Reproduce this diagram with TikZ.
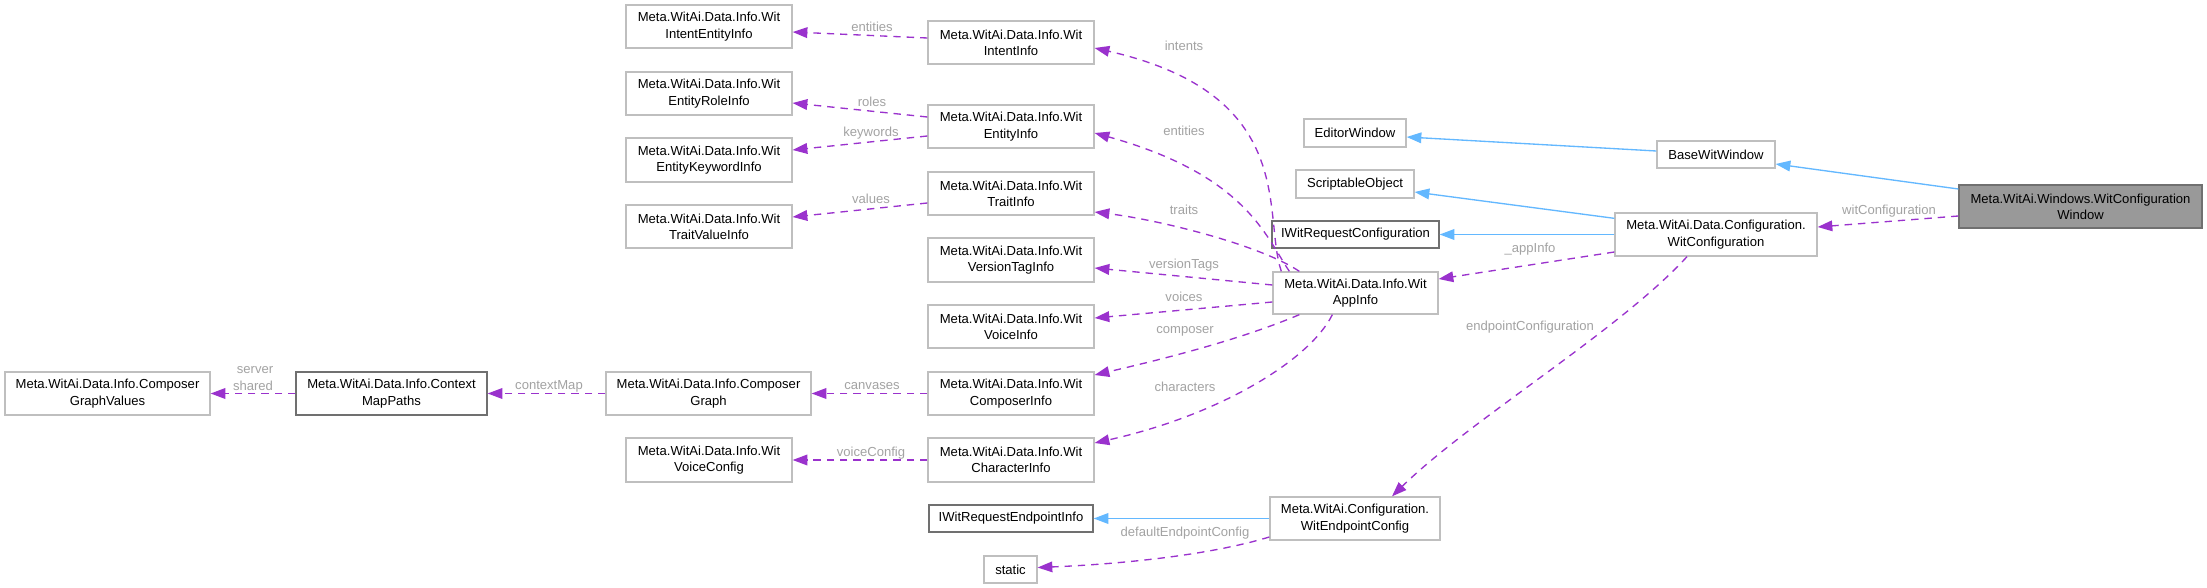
\documentclass[tikz,border=0pt]{standalone}
\usepackage{fontspec}
\setmainfont{Liberation Sans}
\usetikzlibrary{arrows.meta,calc}
\definecolor{edgeblue}{HTML}{63B8FF}
\definecolor{edgepurple}{HTML}{9A32CD}
\definecolor{boxborder}{HTML}{BFBFBF}
\definecolor{darkborder}{HTML}{707070}
\definecolor{focalfill}{HTML}{999999}
\definecolor{lblgray}{HTML}{A3A3A3}
\begin{document}
\begin{tikzpicture}[x=0.75pt,y=-0.75pt,
  font=\fontsize{9.8pt}{12.2pt}\selectfont,
  sz/.style 2 args={minimum width=#1*0.75pt, minimum height=#2*0.75pt},
  cls/.style={draw=boxborder, line width=1pt, fill=white, align=center, inner sep=0pt, text=black},
  undoc/.style={cls, draw=darkborder},
  focal/.style={cls, draw=darkborder, fill=focalfill},
  usage/.style={draw=edgepurple, line width=1pt, dash pattern=on 5.5pt off 4.5pt, -{Triangle[length=11pt,width=8pt]}},
  inherit/.style={draw=edgeblue, line width=1pt, -{Triangle[length=11pt,width=8pt]}},
  lbl/.style={text=lblgray, inner sep=0pt}
]
\useasboundingbox[fill=white] (0,0) rectangle (2207,588);

% nodes
\node[cls, sz={166}{43}] (iei) at (709,26.5) {Meta.WitAi.Data.Info.Wit\\IntentEntityInfo};
\node[cls, sz={166}{43}] (eri) at (709,93.5) {Meta.WitAi.Data.Info.Wit\\EntityRoleInfo};
\node[cls, sz={166}{44}] (eki) at (709,160) {Meta.WitAi.Data.Info.Wit\\EntityKeywordInfo};
\node[cls, sz={166}{43}] (tvi) at (709,226.5) {Meta.WitAi.Data.Info.Wit\\TraitValueInfo};
\node[cls, sz={166}{44}] (vc) at (709,460) {Meta.WitAi.Data.Info.Wit\\VoiceConfig};
\node[cls, sz={166}{43}] (ii) at (1011,42.5) {Meta.WitAi.Data.Info.Wit\\IntentInfo};
\node[cls, sz={166}{43}] (ei) at (1011,126.5) {Meta.WitAi.Data.Info.Wit\\EntityInfo};
\node[cls, sz={166}{43}] (ti) at (1011,193.5) {Meta.WitAi.Data.Info.Wit\\TraitInfo};
\node[cls, sz={166}{44}] (vti) at (1011,260) {Meta.WitAi.Data.Info.Wit\\VersionTagInfo};
\node[cls, sz={166}{43}] (vi) at (1011,326.5) {Meta.WitAi.Data.Info.Wit\\VoiceInfo};
\node[cls, sz={166}{43}] (ci) at (1011,393.5) {Meta.WitAi.Data.Info.Wit\\ComposerInfo};
\node[cls, sz={166}{44}] (chi) at (1011,460) {Meta.WitAi.Data.Info.Wit\\CharacterInfo};
\node[undoc, sz={164}{27}] (iwrei) at (1011,518.5) {IWitRequestEndpointInfo};
\node[cls, sz={53}{27}] (st) at (1010.5,569.5) {static};
\node[cls, sz={205}{43}] (cg) at (708.5,393.5) {Meta.WitAi.Data.Info.Composer\\Graph};
\node[undoc, sz={191}{43}] (cmp) at (391.5,393.5) {Meta.WitAi.Data.Info.Context\\MapPaths};
\node[cls, sz={205}{43}] (cgv) at (107.5,393.5) {Meta.WitAi.Data.Info.Composer\\GraphValues};
\node[cls, sz={102}{28}] (ew) at (1355,133) {EditorWindow};
\node[cls, sz={118}{28}] (so) at (1355,184) {ScriptableObject};
\node[undoc, sz={167}{27}] (iwrc) at (1355.5,234.5) {IWitRequestConfiguration};
\node[cls, sz={165}{42}] (ai) at (1355.5,293) {Meta.WitAi.Data.Info.Wit\\AppInfo};
\node[cls, sz={170}{43}] (wec) at (1355,518.5) {Meta.WitAi.Configuration.\\WitEndpointConfig};
\node[cls, sz={118}{27}] (bww) at (1716,154.5) {BaseWitWindow};
\node[cls, sz={202}{43}] (wc) at (1716,234.5) {Meta.WitAi.Data.Configuration.\\WitConfiguration};
\node[focal, sz={243}{43}] (wcw) at (2080.5,206.5) {Meta.WitAi.Windows.WitConfiguration\\Window};

% edges
\draw[usage] ($(ii.west)+(0,-4.5)$) -- ($(iei.east)+(0,5.5)$);
\draw[usage] ($(ei.west)+(0,-9.5)$) -- ($(eri.east)+(0,9.5)$);
\draw[usage] ($(ei.west)+(0,9.5)$) -- ($(eki.east)+(0,-10)$);
\draw[usage] ($(ti.west)+(0,9.5)$) -- ($(tvi.east)+(0,-9.5)$);
\draw[usage] ($(ai.north west)+(9,0)$) .. controls (1262,215) and (1300,95) .. ($(ii.east)+(0,5.5)$);
\draw[usage] ($(ai.north west)+(17,0)$) .. controls (1265,235) and (1245,175) .. ($(ei.east)+(0,6.5)$);
\draw[usage] ($(ai.north west)+(27,0)$) .. controls (1260,245) and (1160,220) .. ($(ti.east)+(0,18.5)$);
\draw[usage] ($(ai.west)+(0,-8)$) -- ($(vti.east)+(0,8)$);
\draw[usage] ($(ai.west)+(0,9)$) -- ($(vi.east)+(0,-8.5)$);
\draw[usage] ($(ai.south west)+(27,0)$) .. controls (1235,342) and (1150,362) .. ($(ci.east)+(0,-18.5)$);
\draw[usage] ($(ai.south west)+(60,0)$) .. controls (1310,360) and (1220,415) .. ($(chi.east)+(0,-17)$);
\draw[usage] (ci.west) -- (cg.east);
\draw[usage] (cg.west) -- (cmp.east);
\draw[usage] (cmp.west) -- (cgv.east);
\draw[usage] (chi.west) -- (vc.east);
\draw[inherit] (wec.west) -- (iwrei.east);
\draw[usage] ($(wec.west)+(0,18.5)$) .. controls (1200,558) and (1100,565) .. ($(st.east)+(0,-2)$);
\draw[usage] ($(wc.west)+(0,17.5)$) -- ($(ai.east)+(0,-14)$);
\draw[usage] ($(wc.south)+(-29,0)$) .. controls (1620,330) and (1470,420) .. ($(wec.north)+(37,0)$);
\draw[usage] ($(wcw.west)+(0,9.5)$) -- ($(wc.east)+(0,-7.5)$);
\draw[inherit] ($(wcw.west)+(0,-17.5)$) -- ($(bww.east)+(0,9.5)$);
\draw[inherit] ($(bww.west)+(0,-3.5)$) -- ($(ew.east)+(0,4)$);
\draw[inherit] ($(wc.north west)+(0,6)$) -- ($(so.east)+(0,8)$);
\draw[inherit] (wc.west) -- (iwrc.east);

% labels
\node[lbl] (l1) at (872,27) {entities};
\node[lbl] (l2) at (872,102) {roles};
\node[lbl] (l3) at (871,133) {keywords};
\node[lbl] (l4) at (871,199) {values};
\node[lbl] (l5) at (1184,46) {intents};
\node[lbl] (l6) at (1184,131) {entities};
\node[lbl] (l7) at (1184,210) {traits};
\node[lbl] (l8) at (1184,265) {versionTags};
\node[lbl] (l9) at (1184,297) {voices};
\node[lbl] (l10) at (1185,331) {composer};
\node[lbl] (l11) at (1185,387) {characters};
\node[lbl] (l12) at (872,386) {canvases};
\node[lbl] (l13) at (871,453) {voiceConfig};
\node[lbl] (l14) at (1185,533) {defaultEndpointConfig};
\node[lbl] (l15) at (549,386) {contextMap};
\node[lbl] (l16) at (255,370) {server};
\node[lbl] (l17) at (253,386) {shared};
\node[lbl] (l18) at (1889,211) {witConfiguration};
\node[lbl] (l19) at (1530,249) {\_appInfo};
\node[lbl] (l20) at (1530,327) {endpointConfiguration};
\end{tikzpicture}
\end{document}
